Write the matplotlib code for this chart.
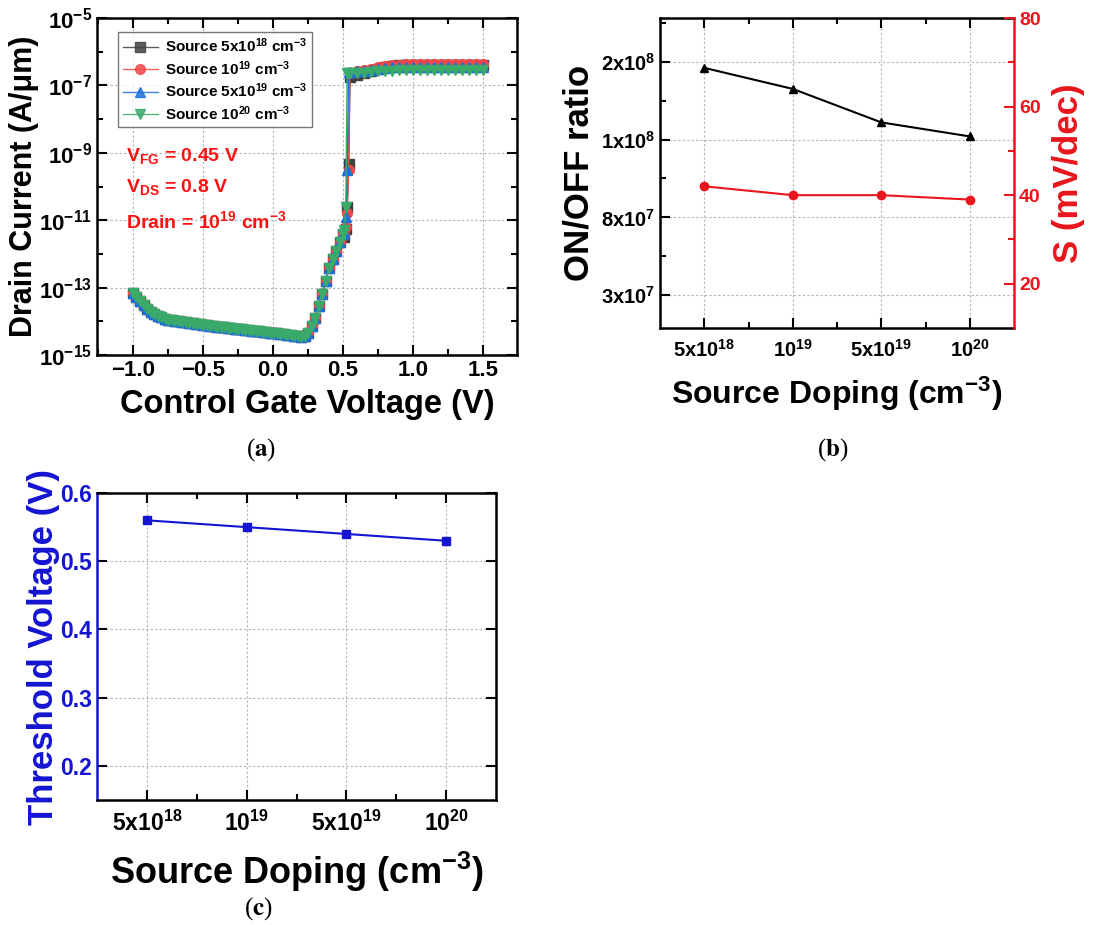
import numpy as np
import matplotlib
matplotlib.use('Agg')
import matplotlib.pyplot as plt
from matplotlib.ticker import FixedLocator, NullFormatter, MultipleLocator

plt.rcParams['font.family'] = ['Liberation Sans', 'DejaVu Sans']
plt.rcParams['font.weight'] = 'bold'
plt.rcParams['axes.labelweight'] = 'bold'
plt.rcParams['mathtext.default'] = 'regular'

# ---- (a) transfer curves ----
# off-state / subthreshold part, the four curves lie on top of each other here
vg_off = np.round(np.arange(-1.0, 0.5001, 0.025), 3)
log_id_off = [-13.15, -13.27, -13.40, -13.52, -13.62, -13.71, -13.78, -13.84, -13.88, -13.92,
              -13.95, -13.97, -13.99, -14.00, -14.02, -14.03, -14.05, -14.06, -14.08, -14.09,
              -14.11, -14.12, -14.13, -14.15, -14.16, -14.17, -14.18, -14.19, -14.21, -14.22,
              -14.23, -14.24, -14.25, -14.27, -14.28, -14.29, -14.30, -14.31, -14.33, -14.34,
              -14.35, -14.36, -14.37, -14.39, -14.40, -14.41, -14.43, -14.44, -14.46, -14.45,
              -14.35, -14.15, -13.90, -13.55, -13.18, -12.80, -12.42, -12.15, -11.90, -11.65,
              -11.40]
# switching point
vg_jump = [0.51, 0.52, 0.53, 0.54]
jump_black = [-11.50, -11.25, -10.60, -9.33]
jump_red = [-11.45, -11.20, -10.80, -9.50]
jump_blue = [-11.35, -10.90, -9.50, -6.60]
jump_green = [-11.30, -10.60, -6.62, -6.63]
# on-state
vg_on = np.round(np.arange(0.55, 1.5001, 0.05), 3)
on_black = [-6.75, -6.70, -6.64, -6.57, -6.51, -6.46, -6.42, -6.40, -6.39, -6.38,
            -6.38, -6.38, -6.38, -6.38, -6.38, -6.38, -6.38, -6.38, -6.38, -6.38]
on_red = [-6.62, -6.58, -6.54, -6.50, -6.46, -6.42, -6.40, -6.38, -6.37, -6.37,
          -6.37, -6.37, -6.37, -6.37, -6.37, -6.37, -6.37, -6.37, -6.37, -6.37]
on_blue = [-6.60, -6.58, -6.56, -6.53, -6.50, -6.48, -6.46, -6.45, -6.44, -6.44,
           -6.44, -6.44, -6.44, -6.44, -6.44, -6.44, -6.44, -6.44, -6.44, -6.44]
on_green = [-6.64, -6.63, -6.62, -6.60, -6.58, -6.57, -6.56, -6.55, -6.54, -6.54,
            -6.54, -6.54, -6.54, -6.54, -6.54, -6.54, -6.54, -6.54, -6.54, -6.54]

series_labels = ['Source 5x10$^{18}$ cm$^{-3}$', 'Source 10$^{19}$ cm$^{-3}$',
                 'Source 5x10$^{19}$ cm$^{-3}$', 'Source 10$^{20}$ cm$^{-3}$']
series_colors = ['#404040', '#f04848', '#1e6fdc', '#3aaa6a']
series_markers = ['s', 'o', '^', 'v']

# ---- (b), (c) ----
doping_labels = ['5x10$^{18}$', '10$^{19}$', '5x10$^{19}$', '10$^{20}$']
on_off_ratio = [1.92e8, 1.65e8, 1.22e8, 1.04e8]
ss_mv_dec = [42, 40, 40, 39]
ratio_ticks = [3e7, 8e7, 1e8, 2e8]
ratio_tick_labels = ['3x10$^{7}$', '8x10$^{7}$', '1x10$^{8}$', '2x10$^{8}$']
vth = [0.56, 0.55, 0.54, 0.53]

RED = '#e8161c'
BLUE = '#1414d2'
GRID = dict(color='#b4b4b4', linestyle=(0, (2, 2)), linewidth=0.8)

fig = plt.figure(figsize=(11.05, 9.25), dpi=100)


def style_ax(ax, lsize, spine_w=1.8):
    for s in ax.spines.values():
        s.set_linewidth(spine_w)
    ax.tick_params(which='both', direction='in', width=1.5, top=True, right=True)
    ax.tick_params(which='major', length=7, labelsize=lsize)
    ax.tick_params(which='minor', length=4)
    ax.set_axisbelow(True)


# ---------------- (a) ----------------
ax_a = fig.add_axes([0.0878, 0.6162, 0.3801, 0.3643])
style_ax(ax_a, 16)
jumps = [jump_black, jump_red, jump_blue, jump_green]
ons = [on_black, on_red, on_blue, on_green]
for lab, col, mk, jp, on in zip(series_labels, series_colors, series_markers, jumps, ons):
    vg = np.concatenate([vg_off, vg_jump, vg_on])
    ids = 10 ** np.concatenate([log_id_off, jp, on])
    ax_a.plot(vg, ids, color=col, marker=mk, ms=7, lw=1.0, label=lab)
ax_a.set_yscale('log')
ax_a.set_xlim(-1.257, 1.743)
ax_a.set_ylim(1e-15, 1e-5)
ax_a.yaxis.set_major_locator(FixedLocator([1e-15, 1e-13, 1e-11, 1e-9, 1e-7, 1e-5]))
ax_a.yaxis.set_minor_locator(FixedLocator([1e-14, 1e-12, 1e-10, 1e-8, 1e-6]))
ax_a.yaxis.set_minor_formatter(NullFormatter())
ax_a.xaxis.set_major_locator(MultipleLocator(0.5))
ax_a.xaxis.set_minor_locator(MultipleLocator(0.25))
ax_a.grid(True, which='major', **GRID)
ax_a.set_xlabel('Control Gate Voltage (V)', fontsize=23.5, labelpad=6)
ax_a.set_ylabel('Drain Current (A/\u03bcm)', fontsize=22, labelpad=0)
leg = ax_a.legend(loc='upper left', bbox_to_anchor=(0.05, 0.958), borderaxespad=0,
                  fontsize=11, frameon=True, fancybox=False, edgecolor='#555555',
                  handlelength=2.3, labelspacing=0.25, borderpad=0.3, handletextpad=0.5,
                  markerscale=1.0)
leg.get_frame().set_linewidth(1.0)
for h in leg.legend_handles:
    h.set_alpha(0.85)
ax_a.text(0.07, 0.576, 'V$_{FG}$ = 0.45 V', transform=ax_a.transAxes, color='#ff1010', fontsize=14)
ax_a.text(0.07, 0.484, 'V$_{DS}$ = 0.8 V', transform=ax_a.transAxes, color='#ff1010', fontsize=14)
ax_a.text(0.07, 0.377, 'Drain = 10$^{19}$ cm$^{-3}$', transform=ax_a.transAxes, color='#ff1010', fontsize=14)

# ---------------- (b) ----------------
ax_b = fig.add_axes([0.5973, 0.6454, 0.3204, 0.3351])
style_ax(ax_b, 14.5)
knots_v = [-2e7, 3e7, 8e7, 1e8, 2e8, 3e8]
knots_p = [-1, 0, 1, 2, 3, 4]
ax_b.set_yscale('function', functions=(lambda v: np.interp(v, knots_v, knots_p),
                                       lambda p: np.interp(p, knots_p, knots_v)))
ax_b.set_ylim(0.9e7, 2.56e8)
ax_b.yaxis.set_major_locator(FixedLocator(ratio_ticks))
ax_b.set_yticklabels(ratio_tick_labels)
ax_b.yaxis.set_minor_locator(FixedLocator([5.5e7, 9e7, 1.5e8, 2.5e8]))
ax_b.yaxis.set_minor_formatter(NullFormatter())
xpos = np.arange(len(doping_labels))
ax_b.plot(xpos, on_off_ratio, color='black', marker='^', ms=6, lw=1.5)
ax_b.set_xlim(-0.5, 3.5)
ax_b.set_xticks(xpos)
ax_b.set_xticklabels(doping_labels)
ax_b.xaxis.set_minor_locator(FixedLocator([0.5, 1.5, 2.5]))
ax_b.tick_params(right=False, which='both')
ax_b.tick_params(axis='x', pad=8)
ax_b.grid(True, which='major', **GRID)
ax_b.set_xlabel('Source Doping (cm$^{-3}$)', fontsize=23, labelpad=10)
ax_b.set_ylabel('ON/OFF ratio', fontsize=25, labelpad=4)
ax_b.spines['right'].set_visible(False)

ax_b2 = ax_b.twinx()
ax_b2.plot(xpos, ss_mv_dec, color=RED, marker='o', ms=6, lw=1.5)
ax_b2.set_ylim(10, 80)
ax_b2.yaxis.set_major_locator(FixedLocator([20, 40, 60, 80]))
ax_b2.yaxis.set_minor_locator(FixedLocator([30, 50, 70]))
ax_b2.tick_params(which='both', direction='in', width=1.5, colors=RED, labelsize=14)
ax_b2.tick_params(which='major', length=7)
ax_b2.tick_params(which='minor', length=4)
for s in ax_b2.spines.values():
    s.set_visible(False)
ax_b2.spines['right'].set_visible(True)
ax_b2.spines['right'].set_color(RED)
ax_b2.spines['right'].set_linewidth(1.8)
ax_b2.set_ylabel('S (mV/dec)', fontsize=25, color=RED, labelpad=8)

# ---------------- (c) ----------------
ax_c = fig.add_axes([0.0878, 0.1351, 0.3611, 0.3319])
style_ax(ax_c, 16.5)
ax_c.plot(xpos, vth, color=BLUE, marker='s', ms=5.5, lw=1.5)
ax_c.set_xlim(-0.5, 3.5)
ax_c.set_ylim(0.15, 0.6)
ax_c.set_xticks(xpos)
ax_c.set_xticklabels(doping_labels)
ax_c.xaxis.set_minor_locator(FixedLocator([0.5, 1.5, 2.5]))
ax_c.yaxis.set_major_locator(FixedLocator([0.2, 0.3, 0.4, 0.5, 0.6]))
ax_c.tick_params(axis='y', labelcolor=BLUE)
ax_c.tick_params(axis='x', pad=8)
ax_c.spines['left'].set_color(BLUE)
ax_c.grid(True, which='major', **GRID)
ax_c.set_xlabel('Source Doping (cm$^{-3}$)', fontsize=26, labelpad=10)
ax_c.set_ylabel('Threshold Voltage (V)', fontsize=25, color=BLUE, labelpad=0)

# captions
for x, y, letter in [(0.236, 0.508, 'a'), (0.754, 0.508, 'b'), (0.234, 0.011, 'c')]:
    fig.text(x, y, '(' + r'$\mathbf{' + letter + '}$' + ')', fontsize=18, ha='center',
             family='Liberation Serif', weight='normal', math_fontfamily='stix')

fig.savefig('out.png', dpi=100)
